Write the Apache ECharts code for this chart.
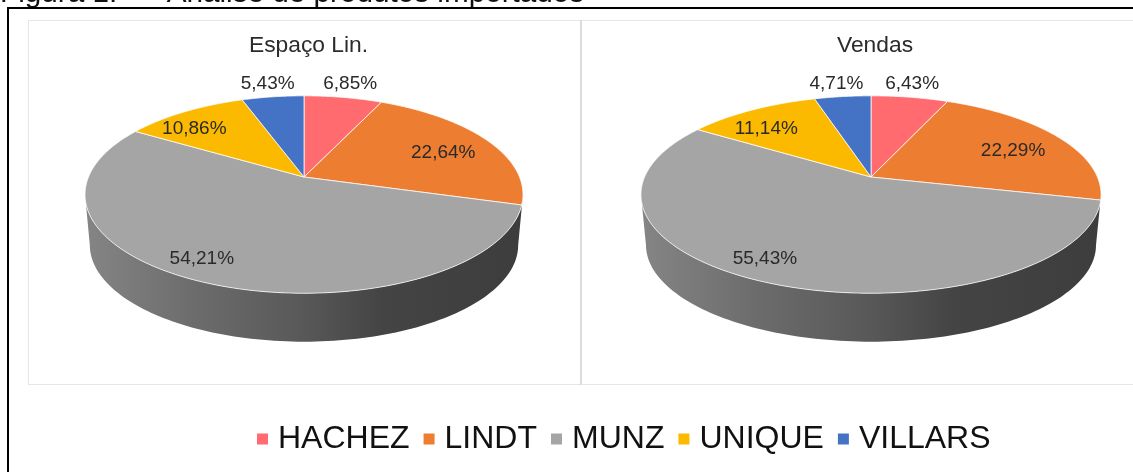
<!DOCTYPE html>
<html><head><meta charset="utf-8">
<style>html,body{margin:0;padding:0;background:#fff}#c{width:1133px;height:472px}</style>
<script src="https://cdn.jsdelivr.net/npm/echarts@6/dist/echarts.min.js"></script>
</head><body><div id="c"></div>
<script>
const categories = ['HACHEZ','LINDT','MUNZ','UNIQUE','VILLARS'];
const espacoValues = [6.85,22.64,54.21,10.86,5.43];
const vendasValues = [6.43,22.29,55.43,11.14,4.71];
const colors = ['#ff6b6f','#ed7d31','#a5a5a5','#fbb900','#4472c4'];
const pieTitles = ['Espaço Lin.','Vendas'];
const caption = 'Figura 1:  –  Análise de produtos importados';

// layout only
const FONT = '"Liberation Sans", Arial, sans-serif';
const K = 0.1776, RY = 95.6;
const pies = [
  {name:pieTitles[0], values:espacoValues, cx:304, cy:177, rx:215.5, titleX:303.5,
   labelR:[1.2,0.75,0.75,0.88,1.2], nudge:[[0.5,0],[0,4],[-28,7],[-3,10],[0,0]]},
  {name:pieTitles[1], values:vendasValues, cx:871, cy:177, rx:226.4, titleX:870,
   labelR:[1.2,0.75,0.75,0.88,1.2], nudge:[[-4,0],[-1,4],[-30,7],[2,11],[-1.5,0]]}
];
function project(p, angle, r, s, dy){
  s = s||1; dy = dy||0;
  const u = r*Math.sin(angle), v = r*Math.cos(angle), w = 1 + K*v;
  return [p.cx + s*p.rx*u/w, p.cy + dy + s*RY*(-v)/w];
}
function wallShape(p){
  const pts = [];
  // widest points of the projected ellipse sit just below the horizontal diameter
  const a0 = Math.PI/2 + Math.asin(K), a1 = 2*Math.PI - a0;
  const N = 120;
  for(let i=0;i<=N;i++) pts.push(project(p, a0+(a1-a0)*i/N, 1));
  for(let i=N;i>=0;i--) pts.push(project(p, a0+(a1-a0)*i/N, 1, 0.978, 51));
  return pts;
}
function sliceSeries(p, pieIdx){
  const total = p.values.reduce((a,b)=>a+b,0);
  let acc = 0;
  return p.values.map((val,i)=>{
    const start = acc/total*2*Math.PI; acc += val; const end = acc/total*2*Math.PI;
    return {
      type:'custom', name:categories[i], coordinateSystem:'none', silent:true, z:3,
      itemStyle:{color:colors[i]}, animation:false,
      data:[[val]],
      renderItem:function(params, api){
        const v = api.value(0);
        const pts = [[p.cx,p.cy]];
        const n = Math.max(6, Math.round((end-start)/0.01));
        for(let k=0;k<=n;k++) pts.push(project(p, start+(end-start)*k/n, 1));
        const mid = (start+end)/2, c = project(p, mid, p.labelR[i]);
        return {type:'group', children:[
          {type:'polygon', shape:{points:pts}, style:{fill:colors[i], stroke:'rgba(255,255,255,0.75)', lineWidth:1}},
          {type:'text', z2:50, style:{x:c[0]+p.nudge[i][0], y:c[1]+p.nudge[i][1],
            text:v.toFixed(2).replace('.',',')+'%', fill:'#2a2a2a', font:'19px '+FONT, align:'center', verticalAlign:'middle'}}
        ]};
      }
    };
  });
}
function wallSeries(p){
  return {
    type:'custom', name:p.name+' base', coordinateSystem:'none', silent:true, z:2, animation:false,
    data:[[1]],
    renderItem:function(){
      const pts = wallShape(p), x0 = p.cx-p.rx*1.016, x1 = p.cx+p.rx*1.016;
      return {type:'polygon', shape:{points:pts}, style:{fill:{
        type:'linear', x:x0, y:0, x2:x1, y2:0, global:true,
        colorStops:[{offset:0,color:'#858585'},{offset:0.25,color:'#6c6c6c'},{offset:0.5,color:'#585858'},
                    {offset:0.68,color:'#444444'},{offset:1,color:'#3d3d3d'}]}}};
    }
  };
}
const series = [];
pies.forEach((p,i)=>{ series.push(wallSeries(p)); series.push(...sliceSeries(p,i)); });

const chart = echarts.init(document.getElementById('c'), null, {renderer:'canvas'});
chart.setOption({
  animation:false, backgroundColor:'#ffffff',
  title: pies.map(p=>({text:p.name, left:p.titleX, top:29, textAlign:'center',
    textStyle:{fontFamily:FONT, fontSize:22.8, fontWeight:'normal', color:'#2b2b2b'}})),
  legend:{data:categories, left:252, top:418, icon:'rect', itemWidth:11, itemHeight:11, itemGap:14,
    selectedMode:false, textStyle:{fontFamily:FONT, fontSize:32, color:'#111111', padding:[0,0,0,5]}},
  graphic:[
    {type:'text', z:0, silent:true, style:{x:0, y:-21, text:caption, fill:'#111', font:'29.7px '+FONT}},
    {type:'line', z:0, silent:true, shape:{x1:8,y1:8,x2:1133,y2:8}, style:{stroke:'#000',lineWidth:2}},
    {type:'line', z:0, silent:true, shape:{x1:8,y1:7,x2:8,y2:472}, style:{stroke:'#000',lineWidth:2}},
    {type:'line', z:0, silent:true, shape:{x1:29,y1:20.5,x2:1133,y2:20.5}, style:{stroke:'#e6e6e6',lineWidth:1}},
    {type:'line', z:0, silent:true, shape:{x1:29,y1:384.5,x2:1133,y2:384.5}, style:{stroke:'#e6e6e6',lineWidth:1}},
    {type:'line', z:0, silent:true, shape:{x1:28.5,y1:20,x2:28.5,y2:385}, style:{stroke:'#e6e6e6',lineWidth:1}},
    {type:'line', z:0, silent:true, shape:{x1:581,y1:20,x2:581,y2:385}, style:{stroke:'#dcdcdc',lineWidth:2}}
  ],
  series:series
});
</script></body></html>
